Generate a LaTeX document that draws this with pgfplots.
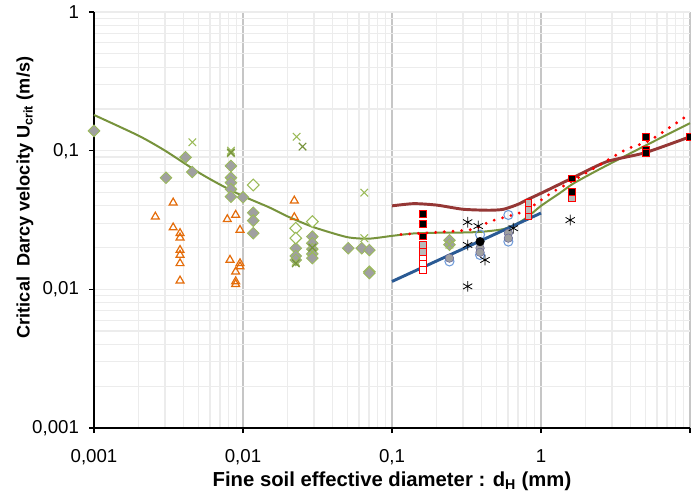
\documentclass[border=0pt]{standalone}
\usepackage{fontspec}
\setmainfont{Liberation Sans}
\usepackage{pgfplots}
\pgfplotsset{compat=1.18}
\definecolor{lgreen}{HTML}{9BBB59}
\definecolor{dgreen}{HTML}{4F6228}
\definecolor{olivel}{HTML}{77933C}
\definecolor{brownr}{HTML}{953735}
\definecolor{navyb}{HTML}{2A5A94}
\definecolor{orng}{HTML}{E46C0A}
\definecolor{cblue}{HTML}{6F9BD8}
\definecolor{dgrey}{HTML}{A0A0A0}
\begin{document}
\begin{tikzpicture}
\path[use as bounding box] (-70.5pt,-51.75pt) rectangle (447.75pt,321pt);
\begin{axis}[
  scale only axis, width=447pt, height=312pt,
  xmode=log, ymode=log, xmin=0.001, xmax=10, ymin=0.001, ymax=1,
  axis x line*=bottom, axis y line*=left,
  axis line style={black, line width=0.9pt},
  xtick={0.001,0.01,0.1,1,10}, xticklabels={{0,001},{0,01},{0,1},{1},{}},
  ytick={0.001,0.01,0.1,1}, yticklabels={{0,001},{0,01},{0,1},{1}},
  tick align=outside, major tick length=3.75pt, minor tick length=0pt,
  tick style={black, line width=0.9pt},
  xmajorgrids, ymajorgrids, xminorgrids, yminorgrids,
  major x grid style={gray!45, line width=0.8pt},
  major y grid style={gray!15, line width=0.9pt},
  minor grid style={gray!15, line width=0.9pt},
  ticklabel style={font=\fontsize{14}{16}\selectfont},
  xticklabel style={yshift=-9pt},
  yticklabel style={xshift=-4pt},
  xlabel={\textbf{Fine soil effective diameter : d\textsubscript{H} (mm)}},
  ylabel={\textbf{Critical\ \ Darcy velocity U\textsubscript{crit} (m/s)}},
  xlabel style={font=\fontsize{15.2}{16}\selectfont, at={(axis description cs:0.5,-0.128)}, anchor=center},
  ylabel style={font=\fontsize{13.6}{16}\selectfont, at={(axis description cs:-0.1158,0.554)}, anchor=center},
  clip=false,
]
% green fitted curve
\addplot[olivel, line width=1.5pt, smooth, tension=0.4] coordinates {
(0.001,0.181)(0.002,0.128)(0.003,0.1)(0.005,0.07)(0.007,0.057)(0.01,0.047)(0.015,0.039)(0.02,0.0335)(0.03,0.028)(0.05,0.0238)(0.07,0.0232)(0.1,0.0243)(0.14,0.0253)(0.2,0.0256)(0.3,0.0257)(0.4,0.026)(0.56,0.0272)(0.7,0.030)(0.82,0.0335)(1,0.040)(1.34,0.0495)(1.65,0.058)(2.5,0.074)(4.87,0.107)(10,0.158)};
% brown curve
\addplot[brownr, line width=2.2pt, smooth, tension=0.4] coordinates {
(0.1,0.040)(0.14,0.0415)(0.2,0.0405)(0.3,0.0378)(0.45,0.0372)(0.56,0.0378)(0.7,0.041)(0.8,0.0441)(1,0.0493)(1.61,0.0632)(2.76,0.0833)(5,0.0967)(10,0.126)};
% blue line
\addplot[navyb, line width=2.2pt] coordinates {(0.1,0.0114)(1,0.0355)};
% red dotted curve
\addplot[red, line width=2.4pt, line cap=round, dash pattern=on 0pt off 6.5pt, smooth, tension=0.4] coordinates {
(0.115,0.0249)(0.2,0.0258)(0.35,0.0271)(0.46,0.031)(0.76,0.0363)(1.0,0.044)(1.21,0.0506)(1.83,0.065)(3.66,0.101)(5.4,0.119)(10,0.185)};
% orange triangles
\addplot[only marks, mark=triangle, mark size=3.4pt, mark options={draw=orng, line width=0.9pt}] coordinates {
(0.0034,0.0422)(0.00258,0.0334)(0.0034,0.0279)(0.00378,0.0254)(0.00378,0.0236)(0.00378,0.0192)(0.00378,0.0177)(0.00378,0.0154)(0.00378,0.01155)
(0.00785,0.032)(0.00893,0.0344)(0.00955,0.0268)(0.00818,0.0163)(0.00955,0.0154)(0.00955,0.0146)(0.00893,0.0134)(0.00893,0.0114)(0.00893,0.0109)
(0.0221,0.0436)(0.0221,0.0331)};
% grey filled diamonds
\addplot[only marks, mark=square*, mark size=3.1pt, mark options={rotate=45, fill=dgrey, draw=lgreen, line width=0.6pt}] coordinates {
(0.001,0.139)(0.00304,0.0638)(0.00412,0.0896)(0.00457,0.0702)
(0.0083,0.0776)(0.0083,0.0639)(0.0083,0.0588)(0.0083,0.0527)(0.0083,0.0466)(0.01,0.0461)
(0.01172,0.0357)(0.01172,0.0313)(0.01172,0.0254)
(0.0226,0.0198)(0.0226,0.0174)(0.0226,0.0163)
(0.0292,0.024)(0.0292,0.0215)(0.0292,0.0195)(0.0292,0.018)(0.0292,0.0168)
(0.0509,0.0198)(0.0627,0.0198)(0.0705,0.0192)(0.0705,0.0134)(0.0705,0.0131)
(0.243,0.0226)(0.243,0.0210)};
% open diamonds
\addplot[only marks, mark=square*, mark size=3.1pt, mark options={rotate=45, fill=white, draw=lgreen, line width=0.8pt}] coordinates {
(0.01172,0.0566)(0.0226,0.0276)(0.0226,0.0234)(0.0292,0.0308)};
% light green crosses
\addplot[only marks, mark=x, mark size=4pt, mark options={draw=lgreen, line width=0.8pt}] coordinates {
(0.00457,0.115)(0.0083,0.1)(0.0083,0.0958)(0.0229,0.126)(0.0226,0.0158)(0.0652,0.0498)(0.0652,0.0234)(0.0292,0.0185)(0.243,0.021)};
% dark green crosses
\addplot[only marks, mark=x, mark size=4pt, mark options={draw=olivel, line width=0.9pt}] coordinates {
(0.0251,0.107)(0.0083,0.097)(0.0226,0.0154)(0.0292,0.02)};
% blue open circles
\addplot[only marks, mark=o, mark size=3.4pt, mark options={draw=cblue, line width=0.8pt}] coordinates {
(0.243,0.0159)(0.39,0.0248)(0.39,0.0177)(0.604,0.0344)(0.604,0.0221)};
% grey circles
\addplot[only marks, mark=*, mark size=3.2pt, mark options={fill=dgrey, draw=gray!80!blue}] coordinates {
(0.243,0.0168)(0.39,0.0198)(0.39,0.0185)(0.604,0.0254)(0.604,0.0234)};
% black circle
\addplot[only marks, mark=*, mark size=3.2pt, mark options={fill=black, draw=black}] coordinates {(0.39,0.0221)};
% asterisks
\addplot[only marks, mark=asterisk, mark size=4pt, mark options={draw=black, line width=0.6pt}] coordinates {
(0.322,0.0305)(0.322,0.0209)(0.322,0.0105)(0.379,0.0286)(0.421,0.0163)(0.652,0.0276)(1.57,0.0316)};
% white squares
\addplot[only marks, mark=square*, mark size=2.5pt, mark options={fill=white, draw=red, line width=0.7pt}] coordinates {
(0.162,0.0168)(0.162,0.0152)(0.162,0.0138)};
% grey squares
\addplot[only marks, mark=square*, mark size=2.5pt, mark options={fill=gray!55, draw=red, line width=0.7pt}] coordinates {
(0.162,0.0209)(0.162,0.0187)(0.822,0.0418)(0.822,0.0373)(0.822,0.0335)(1.61,0.0454)};
% black squares
\addplot[only marks, mark=square*, mark size=2.5pt, mark options={fill=black, draw=red, line width=0.7pt}] coordinates {
(0.162,0.035)(0.162,0.0296)(0.162,0.024)(1.61,0.0632)(1.61,0.0506)(5.05,0.126)(5.05,0.102)(5.05,0.0968)(10,0.126)};
\end{axis}
\end{tikzpicture}
\end{document}
